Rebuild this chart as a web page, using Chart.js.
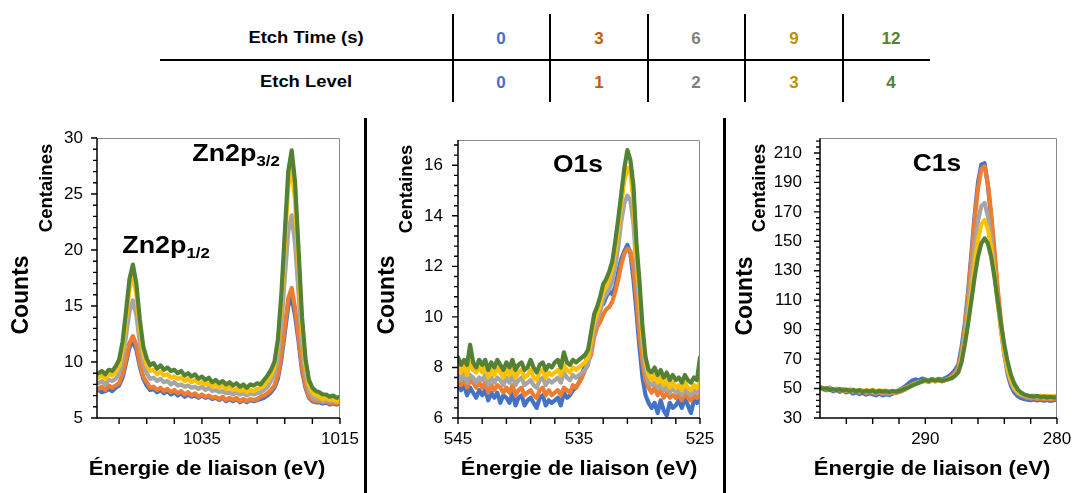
<!DOCTYPE html>
<html><head><meta charset="utf-8">
<script src="https://cdn.jsdelivr.net/npm/chart.js@4.4.1/dist/chart.umd.min.js"></script>
<style>
html,body{margin:0;padding:0;background:#fff;}
#root{position:relative;width:1076px;height:493px;overflow:hidden;font-family:'Liberation Sans',Arial,sans-serif;color:#000;}
.t{position:absolute;white-space:nowrap;line-height:1;font-weight:bold;transform:translate(-50%,-50%);}
.ln{position:absolute;background:#000;}
.cv{position:absolute;}
sub{font-size:15px;vertical-align:-5px;line-height:0;}
</style></head>
<body><div id="root">
<div id="table"></div>
<div class="ln" style="left:364px;top:118px;width:3px;height:375px"></div>
<div class="ln" style="left:723px;top:118px;width:3px;height:375px"></div>
<div class="cv" style="left:0;top:110px"><canvas id="c1" width="360" height="383"></canvas></div>
<div class="cv" style="left:370px;top:110px"><canvas id="c2" width="350" height="383"></canvas></div>
<div class="cv" style="left:728px;top:110px"><canvas id="c3" width="348" height="383"></canvas></div>

<div class="t" style="left:20px;top:295px;font-size:23px;transform:translate(-50%,-50%) rotate(-90deg)">Counts</div>
<div class="t" style="left:46px;top:188px;font-size:18.5px;transform:translate(-50%,-50%) rotate(-90deg)">Centaines</div>
<div class="t" style="left:386px;top:295px;font-size:23px;transform:translate(-50%,-50%) rotate(-90deg)">Counts</div>
<div class="t" style="left:406px;top:189px;font-size:18.5px;transform:translate(-50%,-50%) rotate(-90deg)">Centaines</div>
<div class="t" style="left:744px;top:296px;font-size:23px;transform:translate(-50%,-50%) rotate(-90deg)">Counts</div>
<div class="t" style="left:759px;top:188px;font-size:18.5px;transform:translate(-50%,-50%) rotate(-90deg)">Centaines</div>

<div class="t" style="left:207px;top:467px;font-size:21px;transform:translate(-50%,-50%) scaleX(1.05)">Énergie de liaison (eV)</div>
<div class="t" style="left:579px;top:467px;font-size:21px;transform:translate(-50%,-50%) scaleX(1.05)">Énergie de liaison (eV)</div>
<div class="t" style="left:932px;top:467px;font-size:21px;transform:translate(-50%,-50%) scaleX(1.05)">Énergie de liaison (eV)</div>

<div class="t" style="left:236px;top:153px;font-size:24px;transform:translate(-50%,-50%) scaleX(1.12)">Zn2p<sub>3/2</sub></div>
<div class="t" style="left:166px;top:245px;font-size:24px;transform:translate(-50%,-50%) scaleX(1.12)">Zn2p<sub>1/2</sub></div>
<div class="t" style="left:578px;top:164px;font-size:24px;transform:translate(-50%,-50%) scaleX(1.1)">O1s</div>
<div class="t" style="left:937px;top:163px;font-size:24px;transform:translate(-50%,-50%) scaleX(1.1)">C1s</div>
</div>
<script>
const FONT = "'Liberation Sans', Arial, sans-serif";
const etchTimes = ['0','3','6','9','12'];
const etchLevels = ['0','1','2','3','4'];
const lineColors = ['#4472C4','#ED7D31','#A5A5A5','#FFC000','#548235'];
const textColors = ['#4472C4','#C55A11','#7F7F7F','#BF9000','#548235'];

// ---- Zn 2p ----
const znEnergy = [1050,1049.5,1049,1048.5,1048,1047.5,1047,1046.5,1046,1045.5,
1045,1044.5,1044,1043.5,1043,1042.5,1042,1041.5,1041,1040.5,
1040,1039.5,1039,1038.5,1038,1037.5,1037,1036.5,1036,1035.5,
1035,1034.5,1034,1033.5,1033,1032.5,1032,1031.5,1031,1030.5,
1030,1029.5,1029,1028.5,1028,1027.5,1027,1026.5,1026,1025.5,
1025,1024.5,1024,1023.5,1023,1022.5,1022,1021.5,1021,1020.5,
1020,1019.5,1019,1018.5,1018,1017.5,1017,1016.5,1016,1015.5,
1015];
const znLevel0 = [7.5,7.3,7.4,7.6,7.4,7.7,7.9,8.6,9.9,11.3,
11.9,11.1,9.6,8.5,7.9,7.5,7.6,7.3,7.5,7.2,
7.4,7.1,7.3,7.0,7.2,6.9,7.1,6.9,7.0,6.8,
7.0,6.8,6.9,6.7,6.8,6.6,6.8,6.5,6.7,6.5,
6.7,6.4,6.6,6.4,6.6,6.5,6.6,6.7,6.8,7.0,
7.3,7.7,8.5,10.2,12.6,15.0,15.8,14.1,11.8,9.2,
7.7,6.8,6.5,6.4,6.4,6.3,6.4,6.2,6.3,6.2,
6.3];
const znLevel1 = [7.6,7.8,7.5,7.9,7.7,7.9,8.1,8.9,10.2,11.7,
12.3,11.5,9.9,8.7,8.2,7.7,7.8,7.5,7.7,7.4,
7.6,7.3,7.5,7.2,7.4,7.1,7.3,7.0,7.2,6.9,
7.1,6.9,7.0,6.8,6.9,6.7,6.9,6.6,6.8,6.6,
6.8,6.5,6.7,6.5,6.7,6.6,6.7,6.9,7.0,7.2,
7.5,7.9,8.8,10.6,13.1,15.7,16.6,14.8,12.2,9.5,
7.9,6.9,6.6,6.5,6.5,6.4,6.5,6.3,6.4,6.3,
6.4];
const znLevel2 = [8.1,8.3,8.0,8.4,8.3,8.5,8.9,10.2,12.3,14.5,
15.5,14.2,11.7,9.9,9.0,8.5,8.6,8.3,8.5,8.2,
8.3,8.0,8.2,7.9,8.0,7.8,7.9,7.7,7.8,7.6,
7.8,7.5,7.7,7.4,7.5,7.3,7.4,7.2,7.3,7.1,
7.3,7.1,7.2,7.0,7.2,7.1,7.2,7.3,7.5,7.8,
8.3,8.9,10.3,13.3,17.5,21.6,23.1,20.5,16.1,11.5,
8.9,7.5,6.9,6.7,6.7,6.5,6.6,6.5,6.5,6.4,
6.5];
const znLevel3 = [8.6,8.8,8.5,8.9,8.8,9.1,9.6,11.1,13.7,16.5,
17.7,16.1,13.0,10.8,9.7,9.2,9.3,8.9,9.1,8.8,
8.9,8.6,8.7,8.5,8.6,8.3,8.5,8.2,8.4,8.1,
8.2,8.0,8.1,7.8,8.0,7.7,7.9,7.6,7.8,7.5,
7.6,7.4,7.6,7.3,7.5,7.4,7.6,7.7,7.9,8.3,
8.8,9.6,11.5,15.2,20.4,25.6,27.5,24.3,18.7,13.1,
9.8,8.0,7.3,7.0,6.9,6.7,6.8,6.6,6.7,6.5,
6.6];
const znLevel4 = [9.0,9.2,8.9,9.3,9.2,9.6,10.2,11.8,14.5,17.4,
18.7,17.0,13.8,11.4,10.3,9.7,9.9,9.4,9.7,9.3,
9.5,9.2,9.3,9.0,9.2,8.8,9.0,8.7,8.9,8.5,
8.7,8.4,8.6,8.2,8.4,8.1,8.3,8.0,8.2,7.9,
8.1,7.8,8.0,7.7,8.0,7.9,8.1,8.0,8.4,8.8,
9.3,10.0,12.0,16.0,21.5,27.0,28.9,26.0,20.0,14.0,
10.3,8.4,7.7,7.4,7.3,7.1,7.1,6.9,7.0,6.8,
6.9];
const znXTicks = [1015,1035];
const znYTicks = [5,10,15,20,25,30];

// ---- O 1s ----
const oEnergy = [545,544.75,544.5,544.25,544,543.75,543.5,543.25,
543,542.75,542.5,542.25,542,541.75,541.5,541.25,
541,540.75,540.5,540.25,540,539.75,539.5,539.25,
539,538.75,538.5,538.25,538,537.75,537.5,537.25,
537,536.75,536.5,536.25,536,535.75,535.5,535.25,
535,534.75,534.5,534.25,534,533.75,533.5,533.25,
533,532.75,532.5,532.25,532,531.75,531.5,531.25,
531,530.75,530.5,530.25,530,529.75,529.5,529.25,
529,528.75,528.5,528.25,528,527.75,527.5,527.25,
527,526.75,526.5,526.25,526,525.75,525.5,525.25,
525];
const oLevel0 = [7.4,7.1,7.3,6.9,7.2,7.0,6.8,7.1,
6.9,7.1,6.7,7.0,6.8,7.0,6.6,6.9,
6.8,6.6,7.0,6.5,6.8,6.9,6.5,6.7,
6.8,6.6,6.4,6.8,6.9,6.5,6.7,6.6,
6.7,6.8,6.5,7.0,6.8,6.9,7.1,7.2,
7.4,7.7,8.1,8.6,9.1,9.7,10.3,10.6,
10.5,10.8,11.0,10.9,11.2,11.8,12.3,12.6,
12.85,12.5,11.5,10.2,8.8,7.6,6.9,6.6,
6.4,6.6,6.2,6.7,6.3,6.1,6.6,6.4,
6.5,6.7,6.4,6.8,6.5,6.2,6.7,6.6,
6.8];
const oLevel1 = [7.5,7.3,7.6,7.2,7.5,7.4,7.2,7.4,
7.2,7.4,7.0,7.3,7.1,7.3,7.2,7.0,
7.2,7.0,7.3,6.9,7.1,7.2,6.9,7.0,
7.1,6.9,6.8,7.1,7.2,6.9,7.1,6.9,
7.0,7.1,6.9,7.2,7.1,7.0,7.3,7.2,
7.4,7.6,7.9,8.2,8.5,9.2,9.6,9.8,
10.1,10.3,10.4,10.6,11.0,11.5,12.1,12.5,
12.7,12.6,11.9,10.7,9.3,8.2,7.5,7.2,
7.0,7.2,6.9,7.1,6.8,7.0,6.8,6.9,
6.8,6.9,6.7,7.0,6.8,6.7,6.9,6.8,
6.9];
const oLevel2 = [7.7,7.5,7.8,7.4,7.7,7.6,7.4,7.6,
7.5,7.7,7.3,7.6,7.4,7.6,7.5,7.3,
7.6,7.4,7.7,7.3,7.5,7.6,7.3,7.4,
7.5,7.3,7.2,7.5,7.6,7.3,7.5,7.4,
7.5,7.6,7.4,7.8,7.6,7.5,7.7,7.6,
7.7,7.8,7.9,8.1,8.8,9.5,9.9,10.2,
10.7,10.9,11.1,11.4,12.0,12.8,13.8,14.5,
14.8,14.6,13.7,11.8,10.3,8.9,7.9,7.4,
7.3,7.4,7.2,7.4,7.1,7.3,7.0,7.2,
7.0,7.1,6.9,7.2,7.0,6.9,7.1,7.0,
7.1];
const oLevel3 = [8.0,7.8,8.1,7.7,8.2,7.9,7.8,8.0,
7.8,8.1,7.6,7.9,7.7,8.0,7.8,7.6,
7.9,7.7,8.0,7.6,7.8,7.9,7.6,7.7,
7.9,7.6,7.5,7.8,7.9,7.6,7.8,7.7,
7.8,7.9,7.7,8.1,7.9,7.8,8.0,7.9,
8.0,8.1,8.2,8.4,9.1,9.8,10.1,10.5,
11.0,11.2,11.5,11.9,12.6,13.5,14.5,15.4,
15.9,15.7,14.6,12.4,10.9,9.2,8.2,7.7,
7.5,7.7,7.4,7.6,7.3,7.5,7.2,7.4,
7.2,7.3,7.1,7.4,7.2,7.1,7.3,7.2,
7.4];
const oLevel4 = [8.4,8.1,8.3,8.1,8.9,8.2,8.0,8.3,
8.1,8.3,7.9,8.2,8.0,8.3,8.1,7.9,
8.2,8.0,8.3,7.9,8.1,8.2,7.9,8.0,
8.3,8.0,7.8,8.1,8.2,7.9,8.1,8.0,
8.2,8.3,8.0,8.6,8.2,8.1,8.3,8.2,
8.3,8.4,8.5,8.7,9.4,10.1,10.4,10.8,
11.3,11.5,11.8,12.2,13.0,13.9,14.9,15.9,
16.6,16.2,15.2,12.9,11.4,9.6,8.4,7.9,
7.8,8.0,7.7,7.9,7.6,7.8,7.5,7.7,
7.5,7.6,7.4,7.7,7.5,7.4,7.6,7.5,
8.4];
const oXTicks = [525,535,545];
const oYTicks = [6,8,10,12,14,16];

// ---- C 1s ----
const cEnergy = [298,297.75,297.5,297.25,297,296.75,296.5,296.25,
296,295.75,295.5,295.25,295,294.75,294.5,294.25,
294,293.75,293.5,293.25,293,292.75,292.5,292.25,
292,291.75,291.5,291.25,291,290.75,290.5,290.25,
290,289.75,289.5,289.25,289,288.75,288.5,288.25,
288,287.75,287.5,287.25,287,286.75,286.5,286.25,
286,285.75,285.5,285.25,285,284.75,284.5,284.25,
284,283.75,283.5,283.25,283,282.75,282.5,282.25,
282,281.75,281.5,281.25,281,280.75,280.5,280.25,
280];
const cLevel0 = [50.8,49.6,48.9,49.9,48.1,49.2,47.8,48.6,
47.4,48.3,46.6,47.5,46.2,47.1,45.9,46.8,
46.1,45.4,46.6,45.3,46.2,45.6,46.5,47.8,
48.9,50.2,51.8,53.6,55.4,56.2,55.5,56.8,
56.1,55.3,56.4,55.7,56.6,55.9,57.0,58.1,
60,62.5,66,78,94,116,142,168,
190,202,203,188,166,140,114,91,
73,60,52,47.5,45,43.6,43.0,42.5,
42.1,42.6,41.9,42.4,41.8,42.2,41.6,42.1,
42.4];
const cLevel1 = [51.2,50.1,49.4,50.6,48.9,49.8,48.7,49.5,
48.2,49.1,47.6,48.5,47.2,48.3,46.9,47.8,
47.1,46.5,47.6,46.2,47.0,46.4,47.3,46.8,
47.6,48.4,49.5,50.8,52.0,53.1,54.0,54.6,
55.2,54.4,55.6,54.8,55.5,54.9,55.7,56.5,
58.5,60.5,64,75,91,113,139,165,
186,199,201,189,169,144,118,95,
76,63,55,50,47.2,45.6,44.5,43.8,
43.2,43.6,42.9,43.3,42.7,43.1,42.6,43.0,
43.2];
const cLevel2 = [50.9,50.3,49.7,50.4,49.2,49.9,49.0,49.6,
48.7,49.4,48.1,48.8,47.8,48.6,47.5,48.2,
47.8,47.2,48.0,47.1,47.6,47.0,47.7,47.4,
48.0,48.9,50.0,51.2,52.4,53.4,54.1,54.9,
55.4,54.8,55.9,55.1,55.7,55.0,55.9,56.6,
57.4,59,62.5,72,86,105,126,147,
164,174,176,167,151,130,108,89,
73,62,54.3,49.7,47.2,45.8,45.0,44.4,
44.0,44.4,43.8,44.1,43.6,44.0,43.5,43.9,
44.1];
const cLevel3 = [50.2,49.5,50.0,49.0,49.7,48.7,49.3,48.5,
49.2,48.6,49.4,48.3,49.1,48.2,48.9,48.4,
49.0,48.2,48.8,48.3,48.7,48.0,48.5,48.1,
48.6,49.5,50.5,51.5,52.6,53.5,54.2,55.0,
55.5,55.0,56.0,55.3,55.9,55.2,56.0,56.6,
57.3,58.8,61.5,70,81,97,116,135,
151,161.5,164.5,158.5,145,128,108.5,90.5,
75,63.5,55.8,50.7,47.9,46.3,45.6,45.2,
44.9,45.3,44.7,45.1,44.6,45.0,44.5,44.9,
45.1];
const cLevel4 = [50.5,49.8,50.2,49.1,49.6,48.8,49.5,48.6,
49.3,48.4,49.0,48.1,48.9,47.8,48.6,48.0,
48.7,47.6,48.4,47.9,48.2,47.6,48.3,47.9,
48.4,49.2,50.1,51.0,52.2,53.0,53.9,55.0,
55.6,55.1,56.2,55.4,56.0,55.2,55.8,56.3,
57.0,58.6,61,68,80,94,110,126,
139.5,148.5,152,148.5,139.5,125.7,109.7,93.8,
79.6,68,59.3,53.5,49.6,47.4,46.0,45.3,
44.8,44.5,44.9,44.2,44.6,44.0,44.4,43.9,
44.2];
const cXTicks = [280,290];
const cYTicks = [30,50,70,90,110,130,150,170,190,210];

// ---- table ----
(function(){
  const root = document.getElementById('table');
  let h = '';
  h += '<div class="ln" style="left:160px;top:59px;width:770px;height:2px"></div>';
  const vx = [452,549,647,744,842];
  vx.forEach(x => { h += '<div class="ln" style="left:'+x+'px;top:14px;width:2px;height:88px"></div>'; });
  h += '<div class="t" style="left:306px;top:38px;font-size:16px;transform:translate(-50%,-50%) scaleX(1.15)">Etch Time (s)</div>';
  h += '<div class="t" style="left:306px;top:82px;font-size:16px;transform:translate(-50%,-50%) scaleX(1.15)">Etch Level</div>';
  const cx = [501,599,696,794,891];
  etchTimes.forEach((v,i) => { h += '<div class="t" style="left:'+cx[i]+'px;top:38px;font-size:17px;color:'+textColors[i]+'">'+v+'</div>'; });
  etchLevels.forEach((v,i) => { h += '<div class="t" style="left:'+cx[i]+'px;top:82px;font-size:17px;color:'+textColors[i]+'">'+v+'</div>'; });
  root.innerHTML = h;
})();

const axisDecor = {
  id: 'axisDecor',
  afterDraw(chart, args, o) {
    const {ctx, chartArea: a, scales: {x, y}} = chart;
    ctx.save();
    ctx.strokeStyle = '#8a8a8a'; ctx.lineWidth = 1;
    ctx.beginPath();
    ctx.moveTo(a.left, Math.round(a.top) + 0.5);
    ctx.lineTo(Math.round(a.right) - 0.5, Math.round(a.top) + 0.5);
    ctx.lineTo(Math.round(a.right) - 0.5, a.bottom);
    ctx.stroke();
    ctx.strokeStyle = '#000'; ctx.lineWidth = 1.5;
    ctx.beginPath();
    ctx.moveTo(a.left, a.top); ctx.lineTo(a.left, a.bottom); ctx.lineTo(a.right, a.bottom);
    ctx.stroke();
    ctx.lineWidth = 1.4;
    ctx.beginPath();
    const nx = Math.round((o.xTo - o.xFrom) / o.xStep);
    for (let k = 0; k <= nx; k++) {
      const px = x.getPixelForValue(o.xFrom + k * o.xStep);
      ctx.moveTo(px, a.bottom); ctx.lineTo(px, a.bottom + 6);
    }
    const ny = Math.round((o.yTo - o.yFrom) / o.yStep);
    const per = Math.round(o.yMajor / o.yStep);
    for (let k = 0; k <= ny; k++) {
      const py = y.getPixelForValue(o.yFrom + k * o.yStep);
      const len = (k % per === 0) ? 6 : 4;
      ctx.moveTo(a.left - len, py); ctx.lineTo(a.left, py);
    }
    ctx.stroke();
    ctx.restore();
  }
};

function buildChart(id, cfg) {
  const datasets = cfg.series.map((vals, i) => ({
    label: etchLevels[i],
    data: cfg.energy.map((e, j) => ({x: e, y: vals[j]})),
    borderColor: lineColors[i], backgroundColor: lineColors[i],
    borderWidth: 4.2, pointRadius: 0, tension: 0, order: 5 - i,
    borderJoinStyle: 'round', borderCapStyle: 'round'
  }));
  const tickFont = {family: FONT, size: 17};
  return new Chart(document.getElementById(id), {
    type: 'line',
    data: {datasets},
    options: {
      responsive: false, animation: false, events: [],
      layout: {padding: {left: 0, right: cfg.padRight, top: cfg.padTop, bottom: 0}},
      plugins: {legend: {display: false}, tooltip: {enabled: false}, axisDecor: cfg.decor},
      scales: {
        x: {type: 'linear', reverse: true, min: cfg.xMin, max: cfg.xMax,
          afterBuildTicks: s => { s.ticks = cfg.xTicks.map(v => ({value: v})); },
          afterFit: s => { s.height = cfg.xHeight; },
          grid: {display: false, drawTicks: false}, border: {display: false},
          ticks: {padding: 11, maxRotation: 0, autoSkip: false, color: '#000', font: tickFont, callback: v => String(v)}},
        y: {type: 'linear', min: cfg.yMin, max: cfg.yMax,
          afterBuildTicks: s => { s.ticks = cfg.yTicks.map(v => ({value: v})); },
          afterFit: s => { s.width = cfg.yWidth; },
          grid: {display: false, drawTicks: false}, border: {display: false},
          ticks: {padding: cfg.yPad, color: '#000', font: tickFont, callback: v => String(v)}}
      }
    },
    plugins: [axisDecor]
  });
}

buildChart('c1', {
  energy: znEnergy, series: [znLevel0, znLevel1, znLevel2, znLevel3, znLevel4],
  xMin: 1015, xMax: 1050.2, yMin: 5, yMax: 30, xTicks: znXTicks, yTicks: znYTicks,
  padRight: 20, padTop: 28, xHeight: 75, yWidth: 97, yPad: 14,
  decor: {xFrom: 1015, xTo: 1047, xStep: 4, yFrom: 5, yTo: 30, yStep: 1, yMajor: 5}
});
buildChart('c2', {
  energy: oEnergy, series: [oLevel0, oLevel1, oLevel2, oLevel3, oLevel4],
  xMin: 525, xMax: 545, yMin: 6, yMax: 17, xTicks: oXTicks, yTicks: oYTicks,
  padRight: 20, padTop: 30, xHeight: 75, yWidth: 88, yPad: 15,
  decor: {xFrom: 525, xTo: 545, xStep: 2, yFrom: 6, yTo: 16.8, yStep: 0.4, yMajor: 2}
});
buildChart('c3', {
  energy: cEnergy, series: [cLevel0, cLevel1, cLevel2, cLevel3, cLevel4],
  xMin: 280, xMax: 298, yMin: 30, yMax: 220, xTicks: cXTicks, yTicks: cYTicks,
  padRight: 19, padTop: 28, xHeight: 75, yWidth: 92, yPad: 18,
  decor: {xFrom: 280, xTo: 296, xStep: 2, yFrom: 30, yTo: 218, yStep: 4, yMajor: 20}
});
</script>
</body></html>
